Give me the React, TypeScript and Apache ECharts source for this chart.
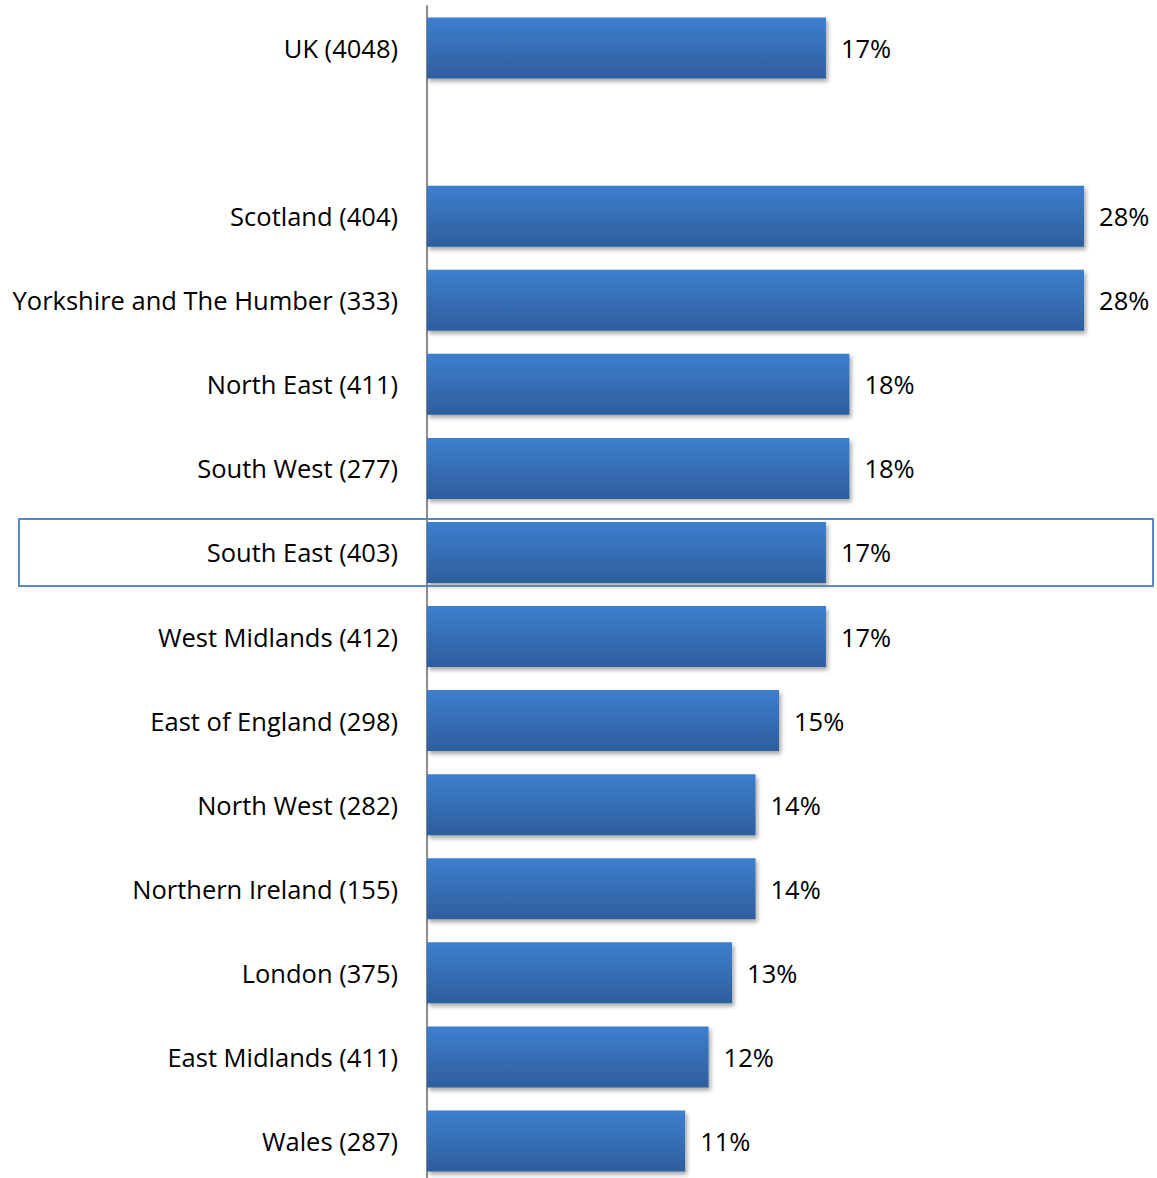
import React, { useEffect, useRef } from "react";
import * as echarts from "echarts";

const categories = [
  "UK (4048)",
  "",
  "Scotland (404)",
  "Yorkshire and The Humber (333)",
  "North East (411)",
  "South West (277)",
  "South East (403)",
  "West Midlands (412)",
  "East of England (298)",
  "North West (282)",
  "Northern Ireland (155)",
  "London (375)",
  "East Midlands (411)",
  "Wales (287)",
];
const values: (number | null)[] = [17, null, 28, 28, 18, 18, 17, 17, 15, 14, 14, 13, 12, 11];

export default function App() {
  const ref = useRef<HTMLDivElement>(null);
  useEffect(() => {
    if (!ref.current) return;
    const chart = echarts.init(ref.current, undefined, { renderer: "svg" });
    const font = "'Open Sans', sans-serif";
    chart.setOption({
      animation: false,
      backgroundColor: "#ffffff",
      grid: { left: 427, top: 6, width: 704, height: 1177, containLabel: false },
      xAxis: {
        type: "value",
        min: 0,
        max: 30,
        show: false,
        splitLine: { show: false },
      },
      yAxis: {
        type: "category",
        data: categories,
        inverse: true,
        axisLine: { show: true, lineStyle: { color: "#8c8c8c", width: 2 } },
        axisTick: { show: false },
        axisLabel: {
          color: "#000000",
          fontFamily: font,
          fontSize: 25.5,
          margin: 29,
        },
      },
      series: [
        {
          type: "bar",
          data: values,
          barWidth: 61,
          itemStyle: {
            color: new echarts.graphic.LinearGradient(0, 0, 0, 1, [
              { offset: 0, color: "#3d7fcf" },
              { offset: 1, color: "#2e5e9d" },
            ]),
            shadowColor: "rgba(0,0,0,0.35)",
            shadowBlur: 4,
            shadowOffsetX: 2,
            shadowOffsetY: 3,
          },
          label: {
            show: true,
            position: "right",
            distance: 15,
            formatter: (p: any) => (p.value == null ? "" : p.value + "%"),
            color: "#000000",
            fontFamily: font,
            fontSize: 25.5,
          },
        },
      ],
      graphic: [
        {
          type: "rect",
          shape: { x: 19, y: 519, width: 1134, height: 67 },
          style: { fill: "none", stroke: "#5a87c5", lineWidth: 2 },
          z: 10,
        },
      ],
    });
    return () => chart.dispose();
  }, []);
  return (
    <div
      style={{
        position: "absolute",
        left: 0,
        top: 0,
        width: 1157,
        height: 1178,
        overflow: "hidden",
      }}
    >
      <div ref={ref} style={{ width: 1157, height: 1183 }} />
    </div>
  );
}
